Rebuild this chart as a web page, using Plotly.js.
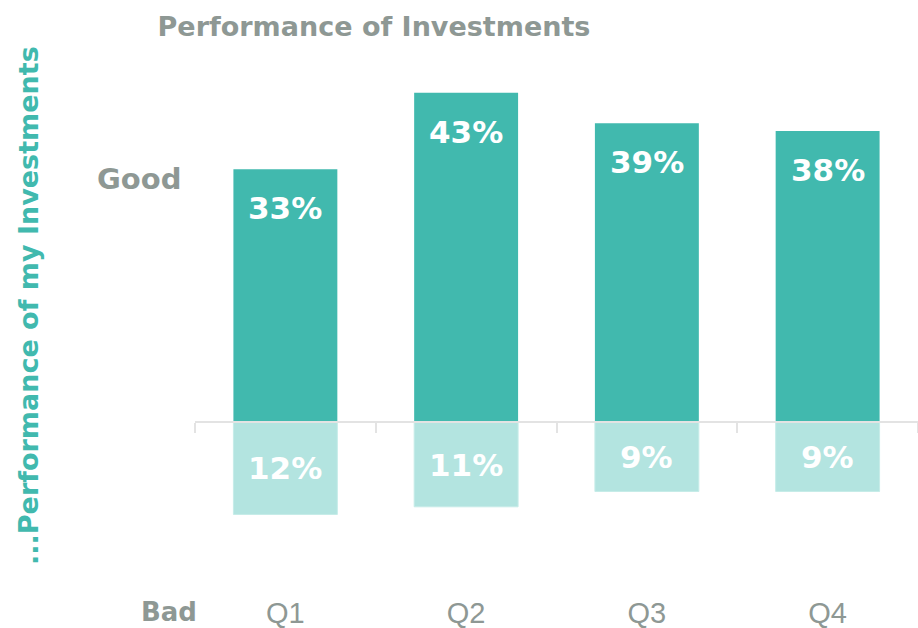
<!DOCTYPE html>
<html>
<head>
<meta charset="utf-8">
<script src="https://cdn.plot.ly/plotly-3.0.1.min.js"></script>
<style>html,body{margin:0;padding:0;background:#fff;}#chart{width:918px;height:628px;}</style>
</head>
<body>
<div id="chart"></div>
<script>
const quarters = ["Q1", "Q2", "Q3", "Q4"];
const goodValues = [33, 43, 39, 38];
const badValues = [12, 11, 9, 9];
const chartTitle = "Performance of Investments";
const yTitle = "...Performance of my Investments";

const darkTeal = "#41B9AE";
const lightTeal = "#B3E4E0";
const gray = "#8E9894";
const boldFont = "'DejaVu Sans', sans-serif";
const tickFont = "'Liberation Sans', Arial, sans-serif";

const traces = [
  {
    type: "bar", x: quarters, y: goodValues, name: "Good",
    marker: {color: darkTeal}, hoverinfo: "skip"
  },
  {
    type: "bar", x: quarters, y: badValues.map(v => -v), name: "Bad",
    marker: {color: lightTeal, line: {color: "#C6ECE8", width: 1}}, hoverinfo: "skip"
  }
];

const annotations = [];
quarters.forEach((q, i) => {
  annotations.push({
    x: q, y: goodValues[i], xref: "x", yref: "y", text: "<b>" + goodValues[i] + "%</b>",
    showarrow: false, yanchor: "middle", yshift: -39,
    font: {family: boldFont, size: 31, color: "#ffffff"}
  });
  annotations.push({
    x: q, y: -badValues[i] / 2, xref: "x", yref: "y", text: "<b>" + badValues[i] + "%</b>",
    showarrow: false, yanchor: "middle",
    font: {family: boldFont, size: 31, color: "#ffffff"}
  });
});
annotations.push({
  text: "<b>Good</b>", xref: "paper", yref: "y", x: -0.077, y: 31.8, showarrow: false,
  xanchor: "center", yanchor: "middle", font: {family: boldFont, size: 29, color: gray}
});
annotations.push({
  text: "<b>Bad</b>", xref: "paper", yref: "paper", x: -0.036, y: 0, yshift: -17, showarrow: false,
  xanchor: "center", yanchor: "middle", font: {family: boldFont, size: 26, color: gray}
});
annotations.push({
  text: "<b>" + yTitle + "</b>", xref: "paper", yref: "paper", x: -0.231, y: 0.5, yshift: 12,
  textangle: -90, showarrow: false, xanchor: "center", yanchor: "middle",
  font: {family: boldFont, size: 27, color: darkTeal}
});

const layout = {
  width: 918, height: 628,
  margin: {l: 195, r: 0, t: 39, b: 33},
  paper_bgcolor: "#ffffff", plot_bgcolor: "#ffffff",
  barmode: "relative", bargap: 0.425, showlegend: false,
  title: {
    text: "<b>" + chartTitle + "</b>", x: 0.4074, xanchor: "center", y: 0.957, yanchor: "middle",
    font: {family: boldFont, size: 27, color: gray}
  },
  xaxis: {
    type: "category", range: [-0.5, 3.5], anchor: "free", position: 22.5 / 72.5,
    showline: true, linecolor: "#E3E3E3", linewidth: 2,
    ticks: "outside", tickson: "boundaries", ticklen: 10, tickwidth: 2, tickcolor: "#E3E3E3",
    ticklabelstandoff: 165,
    tickfont: {family: tickFont, size: 29, color: gray},
    showgrid: false, zeroline: false, fixedrange: true
  },
  yaxis: {
    range: [-22.5, 50], showticklabels: false, showgrid: false, zeroline: false,
    showline: false, ticks: "", fixedrange: true
  },
  annotations: annotations
};

Plotly.newPlot("chart", traces, layout, {displayModeBar: false, staticPlot: true});
</script>
</body>
</html>
